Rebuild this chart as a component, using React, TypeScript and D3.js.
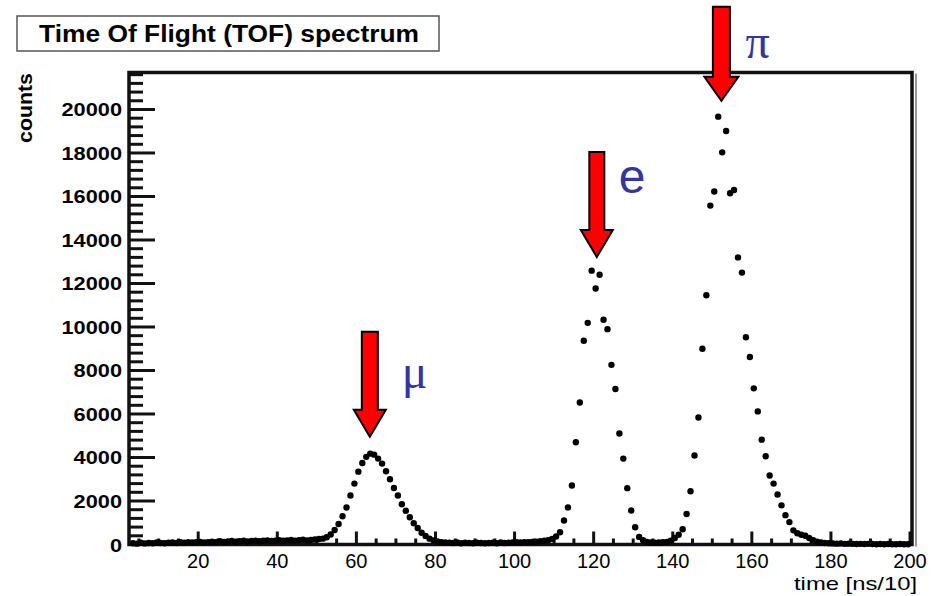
import React, { useEffect, useRef } from "react";
import * as d3 from "d3";

// histogram: counts per bin, first bin starts at binLow, bins are 1 wide
const binLow = 3;
const counts = [
  60, 40, 80, 50, 70, 60, 90, 70, 60, 80,
  90, 70, 100, 80, 110, 90, 100, 120, 90, 110,
  130, 110, 150, 120, 140, 160, 130, 150, 170, 140,
  160, 180, 150, 170, 190, 160, 180, 200, 170, 190,
  210, 180, 200, 220, 190, 210, 230, 250, 270, 330,
  460, 670, 940, 1300, 1700, 2250, 2800, 3350, 3750, 4030,
  4180, 4130, 3950, 3720, 3370, 3000, 2600, 2250, 1850, 1550,
  1250, 980, 760, 540, 390, 270, 190, 140, 110, 90,
  80, 70, 90, 60, 80, 70, 60, 80, 70, 60,
  70, 80, 60, 90, 70, 80, 90, 100, 90, 110,
  100, 120, 130, 150, 170, 200, 260, 370, 565, 1100,
  1700, 2710, 4700, 6530, 9370, 10190, 12590, 11770, 12400, 10330,
  9900, 8260, 7150, 5100, 3950, 2590, 1560, 790, 350, 200,
  120, 90, 80, 90, 100, 120, 180, 300, 450, 700,
  1400, 2450, 4090, 5840, 9000, 11460, 15580, 16230, 19670, 18030,
  19010, 16150, 16300, 13200, 12500, 9530, 8620, 7180, 6120, 4820,
  4060, 3170, 2800, 2300, 1800, 1350, 1030, 650, 520, 450,
  400, 300, 200, 130, 90, 70, 60, 50, 40, 50,
  30, 40, 30, 20, 30, 20, 30, 20, 10, 20,
  10, 20, 10, 10, 20, 10, 10,
];

const xTicks = [20, 40, 60, 80, 100, 120, 140, 160, 180, 200];
const yTicks = [0, 2000, 4000, 6000, 8000, 10000, 12000, 14000, 16000, 18000, 20000];

// particle peaks marked with arrows: label, time and count at the arrow tip
const peakLabels = ["μ", "e", "π"];
const peakTimes = [63.4, 120.8, 152.3];
const peakTips = [4950, 13220, 20400];

const title = "Time Of Flight (TOF) spectrum";
const xTitle = "time [ns/10]";
const yTitle = "counts";

export default function App() {
  const ref = useRef<SVGSVGElement>(null);

  useEffect(() => {
    drawChart();
  }, []);

  function drawChart() {
    const svg = d3.select(ref.current);
    svg.selectAll("*").remove();

    const left = 129, right = 912, top = 72.5, bottom = 544.5;
    const sans = "'Liberation Sans', Arial, Helvetica, sans-serif";
    const serif = "'Liberation Serif', 'DejaVu Serif', serif";

    const x = d3.scaleLinear().domain([2.5, 200.5]).range([left, right]);
    const y = d3.scaleLinear().domain([0, 21700]).range([bottom, top]);

    // title box
    svg.append("rect")
      .attr("x", 17).attr("y", 16).attr("width", 422).attr("height", 35)
      .attr("fill", "#fff").attr("stroke", "#555").attr("stroke-width", 1.5);
    svg.append("text")
      .attr("x", 39).attr("y", 42)
      .attr("textLength", 380).attr("lengthAdjust", "spacingAndGlyphs")
      .style("font-family", sans).style("font-size", "23px").style("font-weight", "bold")
      .text(title);

    // frame shadow on the right
    svg.append("line")
      .attr("x1", right + 4).attr("x2", right + 4).attr("y1", top + 1).attr("y2", bottom + 2)
      .attr("stroke", "#999").attr("stroke-width", 2);

    // y ticks
    const g = svg.append("g").attr("stroke", "#111").attr("stroke-width", 3);
    d3.range(400, 21700, 400).forEach(v => {
      const major = v % 2000 === 0;
      g.append("line")
        .attr("x1", left).attr("x2", left + (major ? 26 : 14))
        .attr("y1", y(v)).attr("y2", y(v));
    });
    // x ticks
    d3.range(5, 201, 5).forEach(v => {
      const major = v % 20 === 0;
      g.append("line")
        .attr("x1", x(v)).attr("x2", x(v))
        .attr("y1", bottom).attr("y2", bottom - (major ? 13 : 6));
    });

    // frame
    svg.append("rect")
      .attr("x", left).attr("y", top).attr("width", right - left).attr("height", bottom - top)
      .attr("fill", "none").attr("stroke", "#111").attr("stroke-width", 3.5);

    // y labels
    svg.append("g").selectAll("text")
      .data(yTicks).join("text")
      .attr("x", 122).attr("y", d => y(d) + 7)
      .attr("text-anchor", "end")
      .attr("textLength", d => String(d).length * 12.1).attr("lengthAdjust", "spacingAndGlyphs")
      .style("font-family", sans).style("font-size", "19px").style("font-weight", "bold")
      .text(d => d);

    // x labels
    svg.append("g").selectAll("text")
      .data(xTicks).join("text")
      .attr("x", d => x(d)).attr("y", 568)
      .attr("text-anchor", "middle")
      .style("font-family", sans).style("font-size", "20px")
      .text(d => d);

    svg.append("text")
      .attr("x", 917).attr("y", 590).attr("text-anchor", "end")
      .attr("textLength", 123).attr("lengthAdjust", "spacingAndGlyphs")
      .style("font-family", sans).style("font-size", "19px")
      .text(xTitle);

    svg.append("text")
      .attr("transform", "translate(32,73) rotate(-90)")
      .attr("text-anchor", "end")
      .attr("textLength", 70).attr("lengthAdjust", "spacingAndGlyphs")
      .style("font-family", sans).style("font-size", "20px").style("font-weight", "bold")
      .text(yTitle);

    // histogram points
    svg.append("g").selectAll("circle")
      .data(counts).join("circle")
      .attr("cx", (d, i) => x(binLow + i + 0.5))
      .attr("cy", d => y(d))
      .attr("r", 3.2)
      .attr("fill", "#000");

    // arrows
    const geo = [
      { shaft: 78, head: 27, sw: 8, hw: 16, dx: 32, dy: -49, font: serif },
      { shaft: 78, head: 27, sw: 7.5, hw: 16, dx: 22, dy: -64, font: sans },
      { shaft: 70, head: 24, sw: 8.5, hw: 17, dx: 24, dy: -43, font: serif },
    ];
    peakLabels.forEach((lab, i) => {
      const cx = x(peakTimes[i]);
      const ty = y(peakTips[i]);
      const a = geo[i];
      const base = ty - a.head;
      const topY = base - a.shaft;
      const p = d3.path();
      p.moveTo(cx - a.sw, topY);
      p.lineTo(cx + a.sw, topY);
      p.lineTo(cx + a.sw, base);
      p.lineTo(cx + a.hw, base);
      p.lineTo(cx, ty);
      p.lineTo(cx - a.hw, base);
      p.lineTo(cx - a.sw, base);
      p.closePath();
      svg.append("path")
        .attr("d", p.toString())
        .attr("fill", "#ff0000").attr("stroke", "#000").attr("stroke-width", 2)
        .attr("stroke-linejoin", "miter");
      svg.append("text")
        .attr("x", cx + a.dx).attr("y", ty + a.dy)
        .style("font-family", a.font).style("font-size", "48px")
        .attr("fill", "#35359f")
        .text(lab);
    });
  }

  return (
    <svg
      ref={ref}
      width={940}
      height={596}
      style={{ position: "absolute", left: 0, top: 0, background: "#fff" }}
    />
  );
}
